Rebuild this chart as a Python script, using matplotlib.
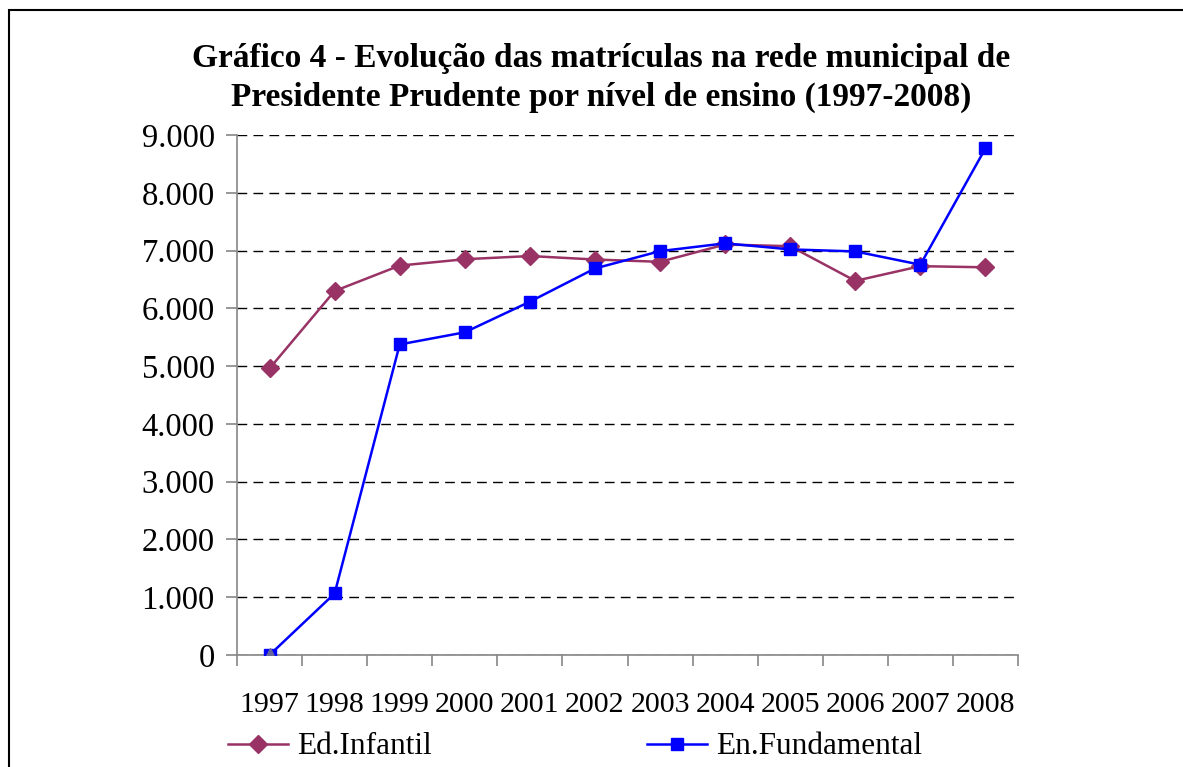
import matplotlib
matplotlib.use('Agg')
import matplotlib.pyplot as plt
import numpy as np
from matplotlib.patches import Rectangle

plt.rcParams['font.family'] = ['Liberation Serif', 'DejaVu Serif']

anos = ['1997', '1998', '1999', '2000', '2001', '2002',
        '2003', '2004', '2005', '2006', '2007', '2008']
ed_infantil = [4960, 6300, 6740, 6850, 6905, 6845, 6805, 7105, 7075, 6475, 6730, 6710]
en_fundamental = [0, 1065, 5375, 5585, 6115, 6690, 6990, 7125, 7020, 6985, 6755, 8770]
# serie sem legenda que aparece apenas em 1997 (marcador triangular)
outra_serie = [0]

yticks = [0, 1000, 2000, 3000, 4000, 5000, 6000, 7000, 8000, 9000]
ytick_labels = ['0', '1.000', '2.000', '3.000', '4.000', '5.000',
                '6.000', '7.000', '8.000', '9.000']

titulo = ('Gráfico 4 - Evolução das matrículas na rede municipal de\n'
          'Presidente Prudente por nível de ensino (1997-2008)')

W, H = 1183, 767
fig = plt.figure(figsize=(W / 100, H / 100), dpi=100)
ax = fig.add_axes([237 / W, 1 - 655 / H, (1018 - 237) / W, (655 - 135) / H])

x = np.arange(len(anos))

ax.plot(x, ed_infantil, color='#993366', lw=1.8, marker='D', ms=9,
        label='Ed.Infantil', zorder=3)
ax.plot(x, en_fundamental, color='#0000FF', lw=1.8, marker='s', ms=8.5,
        label='En.Fundamental', zorder=4)
ax.plot(x[:len(outra_serie)], outra_serie, color='#666699', lw=0, marker='^',
        ms=10, label='_nolegend_', zorder=5)

ax.set_xlim(-0.5, len(anos) - 0.5)
ax.set_ylim(0, 9000)

ax.set_yticks(yticks)
ax.set_yticklabels(ytick_labels, fontsize=23.5)
ax.yaxis.grid(True, color='black', linestyle=(0, (7, 4.5)), lw=1)
ax.set_axisbelow(True)

ax.set_xticks(x)
ax.set_xticklabels(anos, fontsize=21.5)
ax.set_xticks(np.arange(-0.5, len(anos)), minor=True)
ax.tick_params(axis='x', which='major', length=0, pad=27)
ax.tick_params(axis='x', which='minor', length=8, color='#868686', width=1.2)
ax.tick_params(axis='y', length=8, color='#868686', width=1.2, pad=8)

for s in ['top', 'right']:
    ax.spines[s].set_visible(False)
for s in ['left', 'bottom']:
    ax.spines[s].set_color('#868686')
    ax.spines[s].set_linewidth(1.2)

fig.text(601 / W, 1 - 78 / H, titulo, ha='center', va='center',
         fontsize=24, fontweight='bold', linespacing=1.32)

fig.legend(loc='center left', bbox_to_anchor=(228 / W, 1 - 747 / H), ncol=2,
           frameon=False, fontsize=22.5, handlelength=1.92, handletextpad=0.29,
           columnspacing=6.9, borderpad=0, borderaxespad=0)

fig.patches.append(Rectangle((9 / W, -0.1), 1.2, 1 - 10 / H + 0.1,
                             transform=fig.transFigure, fill=False,
                             edgecolor='black', lw=1.5))

fig.savefig('out.png', dpi=100)
